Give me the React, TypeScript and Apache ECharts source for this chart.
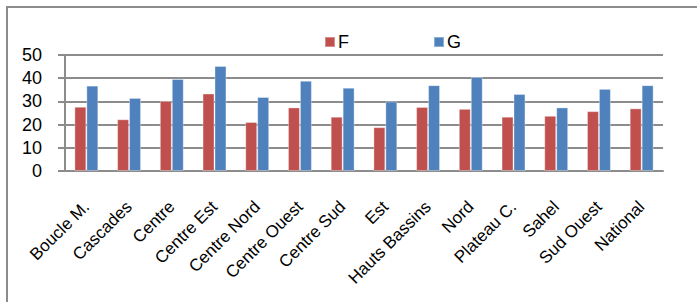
import React, { useEffect, useRef } from "react";
import * as echarts from "echarts";

const categories = [
  "Boucle M.", "Cascades", "Centre", "Centre Est", "Centre Nord", "Centre Ouest",
  "Centre Sud", "Est", "Hauts Bassins", "Nord", "Plateau C.", "Sahel", "Sud Ouest", "National",
];
const seriesF = [27.7, 22.3, 30.2, 33.4, 21.1, 27.4, 23.4, 18.9, 27.6, 26.8, 23.4, 23.8, 25.8, 27.0];
const seriesG = [36.8, 31.5, 39.7, 45.3, 31.9, 38.9, 35.9, 30.0, 37.0, 40.5, 33.2, 27.4, 35.4, 37.0];
const yTicks = { min: 0, max: 50, interval: 10 };

const FONT = "Liberation Sans, Arial, sans-serif";

export default function App() {
  const ref = useRef<HTMLDivElement>(null);
  useEffect(() => {
    document.body.style.margin = "0";
    const chart = echarts.init(ref.current!, null, { renderer: "svg" });
    chart.setOption({
      animation: false,
      backgroundColor: "#ffffff",
      graphic: [
        {
          type: "rect",
          shape: { x: 7, y: 7, width: 760, height: 360 },
          style: { fill: "none", stroke: "#8c8c8c", lineWidth: 2 },
          silent: true,
        },
      ],
      legend: {
        left: 324,
        top: 33,
        padding: 0,
        itemWidth: 10,
        itemHeight: 10,
        itemGap: 84,
        icon: "rect",
        textStyle: { fontFamily: FONT, fontSize: 18, color: "#000", padding: [0, 0, 0, -2] },
        data: ["F", "G"],
      },
      grid: { left: 65, right: 34, top: 55, bottom: 131, containLabel: false },
      xAxis: {
        type: "category",
        data: categories,
        axisLine: { lineStyle: { color: "#8c8c8c", width: 2 } },
        axisTick: { length: 7, lineStyle: { color: "#8c8c8c", width: 2 } },
        axisLabel: {
          rotate: 45,
          interval: 0,
          margin: 33,
          fontFamily: FONT,
          fontSize: 17,
          color: "#000",
        },
      },
      yAxis: {
        type: "value",
        min: yTicks.min,
        max: yTicks.max,
        interval: yTicks.interval,
        axisLine: { show: true, lineStyle: { color: "#8c8c8c", width: 2 } },
        axisTick: { show: true, length: 7, lineStyle: { color: "#8c8c8c", width: 2 } },
        splitLine: { lineStyle: { color: "#8c8c8c", width: 2 } },
        axisLabel: { margin: 23, fontFamily: FONT, fontSize: 18, color: "#000" },
      },
      series: [
        {
          name: "F",
          type: "bar",
          data: seriesF,
          barGap: "0%",
          barCategoryGap: "44%",
          itemStyle: { color: "#C0504D", borderColor: "rgba(255,255,255,0.35)", borderWidth: 1 },
        },
        {
          name: "G",
          type: "bar",
          data: seriesG,
          barGap: "0%",
          barCategoryGap: "44%",
          itemStyle: { color: "#4F81BD", borderColor: "rgba(255,255,255,0.35)", borderWidth: 1 },
        },
      ],
    });
    return () => chart.dispose();
  }, []);
  return <div ref={ref} style={{ width: 697, height: 302 }} />;
}
